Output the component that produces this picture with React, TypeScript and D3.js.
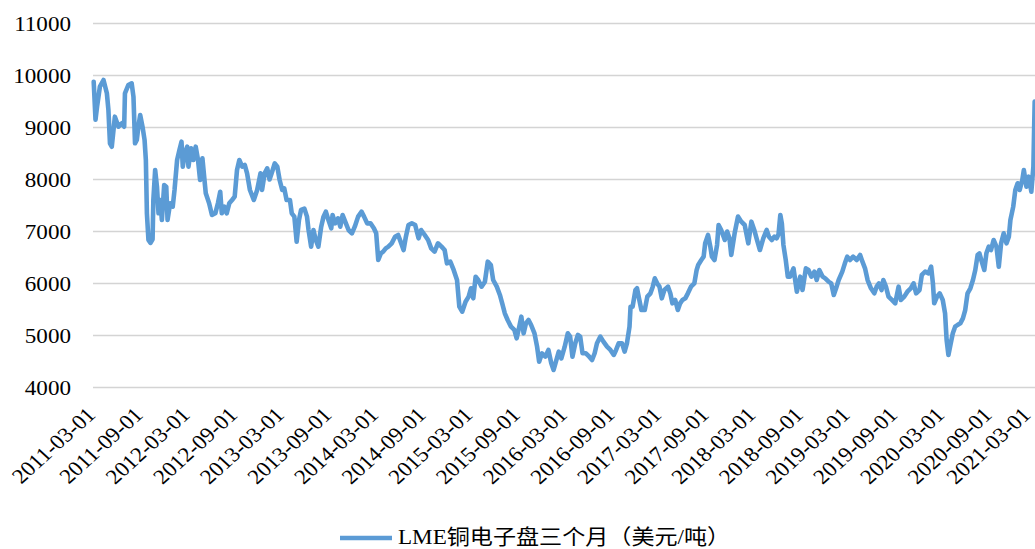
import React from 'react';
import * as d3 from 'd3';

// ---- data ----
const dates: string[] = [
  '2011-03-01','2011-03-08','2011-03-14','2011-03-25','2011-04-08','2011-04-21','2011-04-27','2011-05-03','2011-05-10','2011-05-22',
  '2011-06-05','2011-06-18','2011-06-27','2011-06-30','2011-07-13','2011-07-26','2011-08-02','2011-08-08','2011-08-15','2011-08-21',
  '2011-08-28','2011-09-06','2011-09-14','2011-09-19','2011-09-23','2011-09-29','2011-10-07','2011-10-15','2011-10-18','2011-10-25',
  '2011-11-01','2011-11-07','2011-11-14','2011-11-20','2011-11-29','2011-12-07','2011-12-12','2011-12-22','2012-01-01','2012-01-08',
  '2012-01-18','2012-01-27','2012-02-04','2012-02-09','2012-02-17','2012-02-26','2012-03-02','2012-03-12','2012-03-21','2012-03-30',
  '2012-04-08','2012-04-16','2012-04-25','2012-05-03','2012-05-08','2012-05-21','2012-06-01','2012-06-14','2012-06-24','2012-07-03',
  '2012-07-09','2012-07-19','2012-07-28','2012-08-07','2012-08-18','2012-08-28','2012-09-06','2012-09-15','2012-09-26','2012-10-06',
  '2012-10-15','2012-10-26','2012-11-10','2012-11-23','2012-12-06','2012-12-12','2012-12-22','2013-01-01','2013-01-10','2013-01-20',
  '2013-01-30','2013-02-09','2013-02-18','2013-02-28','2013-03-08','2013-03-17','2013-03-30','2013-04-06','2013-04-16','2013-04-25',
  '2013-05-04','2013-05-12','2013-05-25','2013-06-04','2013-06-10','2013-06-20','2013-06-29','2013-07-08','2013-07-18','2013-07-29',
  '2013-08-07','2013-08-16','2013-08-26','2013-09-06','2013-09-11','2013-09-21','2013-10-02','2013-10-11','2013-10-20','2013-10-30',
  '2013-11-12','2013-11-25','2013-12-06','2013-12-19','2014-01-01','2014-01-11','2014-01-23','2014-02-05','2014-02-18','2014-02-27',
  '2014-03-07','2014-03-17','2014-03-26','2014-04-05','2014-04-15','2014-04-28','2014-05-11','2014-05-23','2014-06-04','2014-06-13',
  '2014-06-22','2014-07-02','2014-07-15','2014-07-28','2014-08-10','2014-08-20','2014-09-03','2014-09-16','2014-09-28','2014-10-11',
  '2014-10-24','2014-11-07','2014-11-19','2014-11-28','2014-12-11','2014-12-24','2015-01-06','2015-01-15','2015-01-26','2015-02-08',
  '2015-02-20','2015-03-01','2015-03-10','2015-03-19','2015-03-29','2015-04-11','2015-04-24','2015-05-05','2015-05-17','2015-05-26',
  '2015-06-09','2015-06-21','2015-06-30','2015-07-10','2015-07-21','2015-08-03','2015-08-16','2015-08-25','2015-09-04','2015-09-12',
  '2015-09-21','2015-09-30','2015-10-10','2015-10-20','2015-11-02','2015-11-12','2015-11-20','2015-12-01','2015-12-14','2015-12-26',
  '2016-01-06','2016-01-15','2016-01-24','2016-02-04','2016-02-14','2016-02-27','2016-03-10','2016-03-19','2016-03-28','2016-04-08',
  '2016-04-18','2016-04-27','2016-05-06','2016-05-19','2016-06-01','2016-06-12','2016-06-22','2016-07-01','2016-07-14','2016-07-26',
  '2016-08-09','2016-08-22','2016-09-04','2016-09-13','2016-09-23','2016-10-06','2016-10-16','2016-10-25','2016-11-04','2016-11-08',
  '2016-11-16','2016-11-27','2016-12-03','2016-12-12','2016-12-20','2017-01-02','2017-01-12','2017-01-24','2017-02-02','2017-02-10',
  '2017-02-19','2017-02-28','2017-03-09','2017-03-19','2017-04-02','2017-04-11','2017-04-19','2017-04-30','2017-05-10','2017-05-19',
  '2017-05-28','2017-06-08','2017-06-18','2017-06-30','2017-07-13','2017-07-22','2017-07-28','2017-08-09','2017-08-18','2017-08-24',
  '2017-09-04','2017-09-13','2017-09-19','2017-09-29','2017-10-09','2017-10-15','2017-10-25','2017-11-08','2017-11-17','2017-11-26',
  '2017-12-03','2017-12-16','2017-12-29','2018-01-11','2018-01-24','2018-02-07','2018-02-19','2018-03-02','2018-03-11','2018-03-24',
  '2018-04-06','2018-04-19','2018-04-28','2018-05-09','2018-05-19','2018-05-28','2018-06-04','2018-06-11','2018-06-17','2018-06-23',
  '2018-07-02','2018-07-10','2018-07-19','2018-08-01','2018-08-14','2018-08-27','2018-09-05','2018-09-18','2018-09-28','2018-10-09',
  '2018-10-21','2018-10-30','2018-11-09','2018-11-22','2018-12-02','2018-12-15','2018-12-25','2019-01-04','2019-01-13','2019-01-23',
  '2019-02-06','2019-02-16','2019-02-25','2019-03-08','2019-03-20','2019-04-03','2019-04-16','2019-04-25','2019-05-05','2019-05-15',
  '2019-05-28','2019-06-10','2019-06-19','2019-06-28','2019-07-08','2019-07-15','2019-07-25','2019-08-04','2019-08-17','2019-08-30',
  '2019-09-12','2019-09-21','2019-10-04','2019-10-16','2019-10-29','2019-11-09','2019-11-19','2019-12-02','2019-12-11','2019-12-24',
  '2020-01-06','2020-01-16','2020-01-23','2020-01-28','2020-02-08','2020-02-18','2020-03-01','2020-03-10','2020-03-16','2020-03-23',
  '2020-04-01','2020-04-09','2020-04-18','2020-04-27','2020-05-08','2020-05-18','2020-05-27','2020-06-05','2020-06-16','2020-06-26',
  '2020-07-05','2020-07-14','2020-07-21','2020-07-30','2020-08-09','2020-08-17','2020-08-26','2020-09-04','2020-09-14','2020-09-25',
  '2020-10-04','2020-10-13','2020-10-23','2020-11-03','2020-11-12','2020-11-18','2020-11-29','2020-12-07','2020-12-16','2020-12-24',
  '2021-01-03','2021-01-09','2021-01-19','2021-01-28','2021-02-07','2021-02-15','2021-02-17','2021-02-20',
];

const prices: number[] = [
  9880,9150,9400,9785,9913,9658,9336,8696,8630,9208,
  9015,9081,9015,9658,9817,9850,9592,8696,8760,9015,
  9240,9015,8760,8375,7350,6837,6780,6850,7606,8183,
  7862,7350,7606,7221,7894,7862,7221,7542,7478,7798,
  8375,8567,8727,8246,8503,8631,8246,8600,8375,8631,
  8375,7990,8408,7990,7735,7542,7317,7350,7542,7765,
  7350,7478,7350,7542,7606,7670,8183,8375,8246,8280,
  8119,7798,7606,7798,8119,7798,8119,8215,8000,8150,
  8311,8246,7990,7798,7830,7606,7606,7350,7286,6804,
  7221,7414,7440,7286,7029,6708,7029,6837,6708,7093,
  7286,7381,7221,7061,7317,7157,7254,7093,7317,7189,
  7029,6965,7093,7286,7381,7286,7157,7157,7061,6965,
  6452,6580,6612,6676,6708,6772,6900,6933,6772,6644,
  6900,7125,7158,7125,6869,7029,6933,6837,6676,6612,
  6773,6708,6644,6388,6420,6260,6067,5554,5458,5650,
  5747,5908,5715,6131,6067,5939,6035,6420,6356,6067,
  5939,5779,5619,5427,5298,5170,5106,4946,5170,5362,
  5042,5234,5298,5202,5042,4785,4497,4657,4593,4722,
  4465,4337,4497,4690,4560,4785,5042,4978,4593,4850,
  5010,4978,4658,4658,4593,4529,4658,4850,4978,4882,
  4785,4722,4626,4722,4850,4850,4690,4850,5170,5554,
  5554,5875,5908,5683,5490,5490,5747,5811,5939,6099,
  6003,5939,5715,5875,5939,5811,5619,5683,5490,5619,
  5683,5715,5811,5939,6003,6260,6356,6452,6516,6773,
  6933,6708,6516,6452,6740,7125,7029,6837,7000,6869,
  6548,6965,7286,7189,7125,6773,7189,7029,6869,6644,
  6869,7029,6900,6837,6900,6869,6950,7317,7150,6740,
  6452,6131,6131,6292,5843,6131,5875,6292,6260,6131,
  6227,6067,6260,6131,6099,6035,6003,5779,5908,6067,
  6227,6388,6516,6452,6516,6452,6548,6420,6292,6067,
  5908,5811,5939,6003,5875,6067,5939,5747,5683,5619,
  5939,5683,5747,5843,5908,6003,5811,5875,6164,6227,
  6196,6324,6000,5619,5747,5811,5683,5427,4913,4626,
  4850,5042,5170,5202,5234,5330,5490,5811,5908,6067,
  6260,6548,6580,6420,6260,6580,6708,6644,6837,6708,
  6324,6773,6965,6773,6900,7221,7478,7798,7927,7798,
  7990,8183,7862,8055,7765,8246,8760,9500,
];

const yTicks: number[] = [4000, 5000, 6000, 7000, 8000, 9000, 10000, 11000];
const xTickLabels: string[] = [
  '2011-03-01','2011-09-01','2012-03-01','2012-09-01','2013-03-01','2013-09-01','2014-03-01',
  '2014-09-01','2015-03-01','2015-09-01','2016-03-01','2016-09-01','2017-03-01','2017-09-01',
  '2018-03-01','2018-09-01','2019-03-01','2019-09-01','2020-03-01','2020-09-01','2021-03-01',
];
const seriesName = 'LME铜电子盘三个月（美元/吨）';

const parse = d3.timeParse('%Y-%m-%d');
const LINE_COLOR = '#5B9BD5';
const FONT = '"Liberation Serif", "Times New Roman", "Noto Sans CJK SC", serif';

export default function App() {
  const W = 1035;
  const H = 549;
  const x = d3
    .scaleTime()
    .domain([parse('2011-03-01') as Date, parse('2021-03-01') as Date])
    .range([93.7, 1037]);
  const y = d3.scaleLinear().domain([4000, 11000]).range([387.5, 23.5]);

  const pts = prices.map((v, i) => ({ d: parse(dates[i]) as Date, v }));
  const linePath = d3
    .line<{ d: Date; v: number }>()
    .x((p) => x(p.d))
    .y((p) => y(p.v))(pts) as string;

  const sx = 1.1;

  return (
    <svg
      width={W}
      height={H}
      style={{ position: 'absolute', left: 0, top: 0, background: '#fff' }}
      fontFamily={FONT}
    >
      {yTicks.map((t) => (
        <line
          key={'g' + t}
          x1={93}
          x2={W}
          y1={y(t)}
          y2={y(t)}
          stroke="#d4d4d4"
          strokeWidth={1.5}
        />
      ))}
      {yTicks.map((t) => (
        <text
          key={'yl' + t}
          transform={`translate(71, ${y(t)}) scale(${sx},1)`}
          textAnchor="end"
          dy="0.35em"
          fontSize={21}
          fill="#000"
        >
          {t}
        </text>
      ))}
      {xTickLabels.map((s) => (
        <text
          key={'xl' + s}
          transform={`translate(${Math.min(x(parse(s) as Date) + 3, W - 3)}, 416) scale(${sx},1) rotate(-45)`}
          textAnchor="end"
          fontSize={21}
          fill="#000"
        >
          {s}
        </text>
      ))}
      <path
        d={linePath}
        fill="none"
        stroke={LINE_COLOR}
        strokeWidth={4.6}
        strokeLinejoin="round"
        strokeLinecap="round"
      />
      <line x1={340} x2={392} y1={538} y2={538} stroke={LINE_COLOR} strokeWidth={4.5} />
      <text transform={`translate(398, 544) scale(${sx},1)`} fontSize={21} fill="#000">
        {seriesName}
      </text>
    </svg>
  );
}
